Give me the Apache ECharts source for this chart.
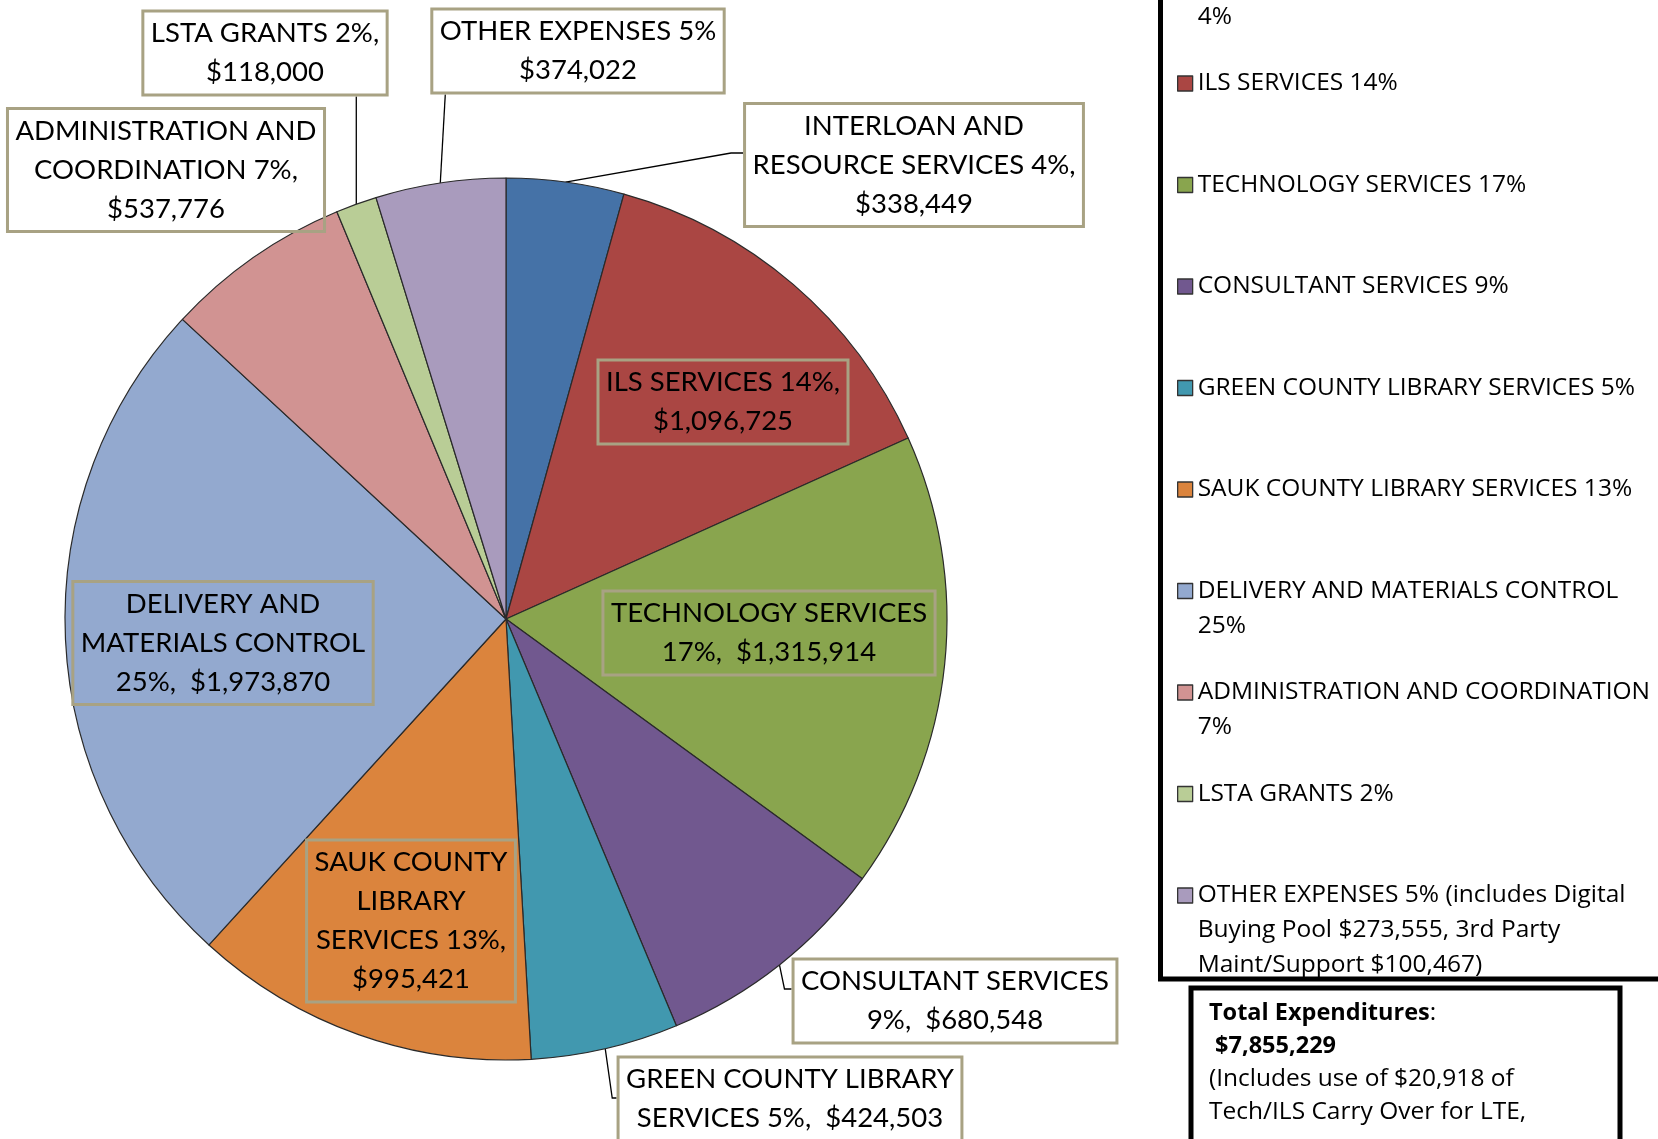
<!DOCTYPE html>
<html><head><meta charset="utf-8">
<script src="https://cdn.jsdelivr.net/npm/echarts@6/dist/echarts.min.js"></script>
<style>html,body{margin:0;padding:0;background:#fff;}#c{width:1658px;height:1139px;}</style>
</head><body><div id="c"></div>
<script>
// ---- data ----
const categories = ['INTERLOAN AND RESOURCE SERVICES','ILS SERVICES','TECHNOLOGY SERVICES','CONSULTANT SERVICES','GREEN COUNTY LIBRARY SERVICES','SAUK COUNTY LIBRARY SERVICES','DELIVERY AND MATERIALS CONTROL','ADMINISTRATION AND COORDINATION','LSTA GRANTS','OTHER EXPENSES'];
const values = [338449,1096725,1315914,680548,424503,995421,1973870,537776,118000,374022];
const labelTexts = [
  'INTERLOAN AND\nRESOURCE SERVICES 4%,\n$338,449',
  'ILS SERVICES 14%,\n$1,096,725',
  'TECHNOLOGY SERVICES\n17%,  $1,315,914',
  'CONSULTANT SERVICES\n9%,  $680,548',
  'GREEN COUNTY LIBRARY\nSERVICES 5%,  $424,503',
  'SAUK COUNTY\nLIBRARY\nSERVICES 13%,\n$995,421',
  'DELIVERY AND\nMATERIALS CONTROL\n25%,  $1,973,870',
  'ADMINISTRATION AND\nCOORDINATION 7%,\n$537,776',
  'LSTA GRANTS 2%,\n$118,000',
  'OTHER EXPENSES 5%\n$374,022'
];
const legendTexts = [
  ['INTERLOAN AND RESOURCE SERVICES','4%'],
  ['ILS SERVICES 14%'],
  ['TECHNOLOGY SERVICES 17%'],
  ['CONSULTANT SERVICES 9%'],
  ['GREEN COUNTY LIBRARY SERVICES 5%'],
  ['SAUK COUNTY LIBRARY SERVICES 13%'],
  ['DELIVERY AND MATERIALS CONTROL','25%'],
  ['ADMINISTRATION AND COORDINATION','7%'],
  ['LSTA GRANTS 2%'],
  ['OTHER EXPENSES 5% (includes Digital','Buying Pool $273,555, 3rd Party','Maint/Support $100,467)']
];
const totalTitle = 'Total Expenditures';
const totalAmount = '$7,855,229';
const totalNotes = ['(Includes use of $20,918 of', 'Tech/ILS Carry Over for LTE,'];

// ---- styling / layout config ----
const colors = ['#4572A7','#AA4643','#89A54E','#71588F','#4198AF','#DB843D','#93A9CF','#D19392','#B9CD96','#A99BBD'];
const insideLabels = [1,2,5,6];
const noLineLabels = [7];
const labelCenters = [[914,165],[723,402],[769,633],[955,1001],[790,1099],[411,921],[223,643],[166,170],[265,53],[578,51]];
const leaderSpec = {
  0:{side:'left', dy:-12, mode:'fromEnd', len:12},
  3:{side:'left', dy:-12, mode:'fromStart', off:5},
  4:{side:'left', dy:-1, mode:'fromStart', off:7},
  8:{side:'bottom', dx:0},
  9:{side:'bottom', dx:5}
};
const LABEL_FONT = 'Lato, "Open Sans", sans-serif';
const LEGEND_FONT = '"Open Sans", sans-serif';

const chart = echarts.init(document.getElementById('c'), null, {renderer:'canvas'});

const LEG_LH = 35, LEG_LINES = 5, LEG_STEP = 101.5;
function legendLabel(name){
  const lines = legendTexts[categories.indexOf(name)];
  const out = ['', ''].concat(lines);
  while (out.length < LEG_LINES) out.push('');
  return out.join('\n');
}

const option = {
  backgroundColor:'#ffffff',
  animation:false,
  legend:{
    orient:'vertical', left:1177, top: -18 - LEG_LH*LEG_LINES/2, height:1500, padding:0,
    itemWidth:15, itemHeight:15, itemGap: LEG_STEP - LEG_LH*LEG_LINES,
    icon:'rect', selectedMode:false,
    data: categories,
    formatter: legendLabel,
    textStyle:{fontFamily:LEGEND_FONT, fontSize:24.5, lineHeight:LEG_LH, color:'#000'},
    itemStyle:{borderColor:'#333', borderWidth:1.3}
  },
  graphic:[
    {type:'rect', silent:true, z:100, shape:{x:1160.5, y:-20, width:620, height:999}, style:{fill:'none', stroke:'#000', lineWidth:5}},
    {type:'rect', silent:true, z:100, shape:{x:1191, y:988, width:429, height:220}, style:{fill:'#fff', stroke:'#000', lineWidth:5}},
    {type:'text', silent:true, z:101, x:1209, y:997,
      style:{
        text:'{b|' + totalTitle + '}{n|:}\n{b| ' + totalAmount + '}\n{n|' + totalNotes.join('}\n{n|') + '}',
        rich:{
          b:{fontFamily:LEGEND_FONT, fontSize:23.5, fontWeight:'bold', lineHeight:33, fill:'#000'},
          n:{fontFamily:LEGEND_FONT, fontSize:24.5, lineHeight:33, fill:'#000'}
        },
        fontFamily:LEGEND_FONT, fontSize:24.5, lineHeight:33, fill:'#000'
      }}
  ],
  series:[{
    type:'pie', center:[506,619], radius:441, startAngle:90, clockwise:true,
    avoidLabelOverlap:false, silent:true,
    emphasis:{disabled:true},
    itemStyle:{borderColor:'#2a2a2a', borderWidth:1.2},
    label:{
      show:true, position:'outside', overflow:'none',
      fontFamily:LABEL_FONT, fontSize:27.5, lineHeight:39, color:'#000',
      backgroundColor:'transparent', borderColor:'#A8A283', borderWidth:1.5, padding:[3,8],
      formatter: p => labelTexts[p.dataIndex]
    },
    labelLine:{show:true, length:10, length2:10, lineStyle:{color:'#000', width:1.3}},
    labelLayout: function(params){
      const i = params.dataIndex;
      const c = labelCenters[i];
      const res = {x:c[0], y:c[1], align:'center', verticalAlign:'middle'};
      const spec = leaderSpec[i];
      if (spec && params.labelLinePoints && params.labelLinePoints[0]) {
        const p0 = params.labelLinePoints[0];
        const w = params.labelRect.width, h = params.labelRect.height;
        if (spec.side === 'left') {
          const end = [c[0] - w/2, c[1] + spec.dy];
          const bend = spec.mode === 'fromEnd' ? [end[0] - spec.len, end[1]] : [p0[0] + spec.off, end[1]];
          res.labelLinePoints = [p0, bend, end];
        } else {
          const end = [p0[0] + spec.dx, c[1] + h/2];
          res.labelLinePoints = [p0, end, end];
        }
      }
      return res;
    },
    data: categories.map((n,i) => {
      const d = {name:n, value:values[i], itemStyle:{color:colors[i]}};
      if (insideLabels.indexOf(i) >= 0) {
        d.label = {position:'inside'};
        d.labelLine = {show:false};
      }
      if (noLineLabels.indexOf(i) >= 0) {
        d.labelLine = {show:false};
      }
      return d;
    })
  }]
};
chart.setOption(option);
</script>
</body></html>
